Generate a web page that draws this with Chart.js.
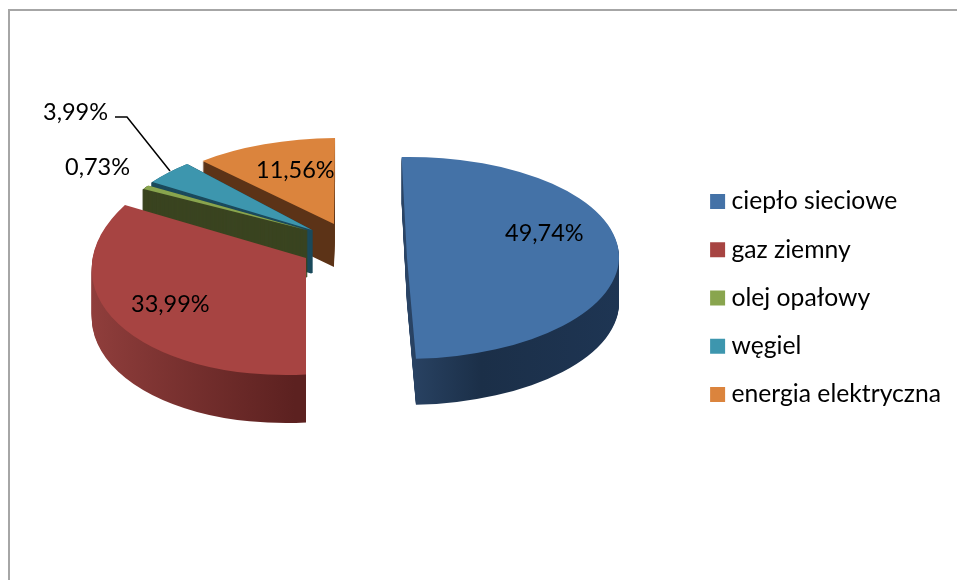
<!DOCTYPE html>
<html><head><meta charset="utf-8">
<style>html,body{margin:0;padding:0;background:#fff;overflow:hidden}#w{width:957px;height:580px;position:relative}</style>
<script src="https://cdn.jsdelivr.net/npm/chart.js@4"></script>
</head><body><div id="w"><canvas id="c" width="957" height="580"></canvas></div>
<script>
const categories = ['ciepło sieciowe','gaz ziemny','olej opałowy','węgiel','energia elektryczna'];
const shares = [49.74,33.99,0.73,3.99,11.56];
const topColors = ['#4472A7','#A74442','#89A54E','#3D96AE','#DB843D'];
const wallNear = ['#2A4465','#5C2120','#3A4420','#1B4A5C','#5C3317'];
const wallFar  = ['#1B2F48','#903E3C','#3A4420','#1B4A5C','#5C3317'];
const drawOrder = [4,3,2,1,0];
const labelSpots = [[505,233],[131,304],[65,167],[43,112],[256,170]];
const leader = [[115,117],[127,117],[170,171]];
const FONT = '23.5px Lato';
const R = 100;
// per-slice view of the tilted, exploded pie: [originX, originY, ax, ay, bx, by, wallDepth]
const sliceFrames = [
  [407,258, 212, 0,  -2,101, 46],
  [306,258, 214,-5, -11,117, 48],
  [307,230, 191,-2,  -6, 87, 47],
  [312,230, 199,-1, -17, 92, 43],
  [334,224, 199, 1,  -8, 86, 43]
];

const pie3d = {
  id:'pie3d',
  beforeDatasetsDraw(chart){
    const ctx=chart.ctx, arcs=chart.getDatasetMeta(0).data;
    ctx.save();ctx.strokeStyle='#a6a6a6';ctx.lineWidth=2;ctx.beginPath();
    ctx.moveTo(9,580);ctx.lineTo(9,10);ctx.lineTo(957,10);ctx.stroke();ctx.restore();
    drawOrder.forEach(i=>{
      const el=arcs[i], f=sliceFrames[i];
      const place=(dy)=>{ctx.save();ctx.translate(f[0],f[1]+dy);ctx.transform(f[2]/R,f[3]/R,f[4]/R,f[5]/R,0,0);ctx.translate(-el.x,-el.y);};
      const g=ctx.createLinearGradient(el.x-R,0,el.x+R,0);
      if(i===0){g.addColorStop(0.5,wallNear[0]);g.addColorStop(0.68,wallFar[0]);g.addColorStop(1,'#1E3553');}
      else if(i===1){g.addColorStop(0,wallFar[1]);g.addColorStop(0.5,wallNear[1]);}
      else{g.addColorStop(0,wallFar[i]);g.addColorStop(1,wallNear[i]);}
      const thin=i===2||i===3;
      const shade=Object.create(el,{options:{value:Object.assign({},el.options,{backgroundColor:g,borderColor:wallNear[i],borderWidth:thin?1.5:0})}});
      for(let dy=f[6];dy>0;dy--){place(dy);shade.draw(ctx);ctx.restore();}
      place(0);el.draw(ctx);ctx.restore();
    });
    return false;
  },
  afterDraw(chart){
    const ctx=chart.ctx;
    ctx.save();ctx.font=FONT;ctx.fillStyle='#000';ctx.textBaseline='middle';ctx.textAlign='left';
    shares.forEach((v,i)=>ctx.fillText(v.toFixed(2).replace('.',',')+'%',labelSpots[i][0],labelSpots[i][1]));
    ctx.strokeStyle='#000';ctx.lineWidth=1.5;ctx.beginPath();
    leader.forEach((p,i)=>i?ctx.lineTo(p[0],p[1]):ctx.moveTo(p[0],p[1]));ctx.stroke();ctx.restore();
  }
};

new Chart(document.getElementById('c'),{
  type:'pie',
  data:{labels:categories,datasets:[{data:shares,backgroundColor:topColors,borderWidth:0}]},
  options:{
    responsive:false,animation:false,rotation:-2,radius:R,
    layout:{padding:{top:16,right:6}},
    plugins:{
      tooltip:{enabled:false},
      legend:{position:'right',labels:{usePointStyle:true,pointStyle:'rect',boxWidth:3,boxHeight:15,padding:23.55,color:'#000',font:{family:'Lato',size:24.7}}}
    }
  },
  plugins:[pie3d]
});
</script></body></html>
